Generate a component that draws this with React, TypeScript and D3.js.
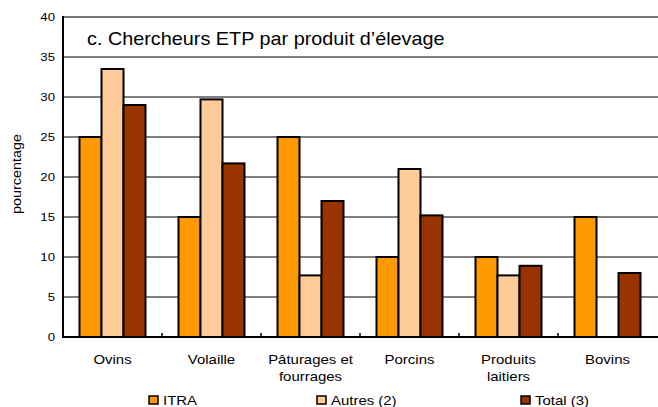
import React from "react";
import * as d3 from "d3";

const categories = [["Ovins"], ["Volaille"], ["Pâturages et", "fourrages"], ["Porcins"], ["Produits", "laitiers"], ["Bovins"]];
const seriesNames = ["ITRA", "Autres (2)", "Total (3)"];
const itra = [25, 15, 25, 10, 10, 15];
const autres = [33.5, 29.7, 7.7, 21, 7.7, 0];
const total = [29, 21.7, 17, 15.2, 8.9, 8];
const yTicks = [0, 5, 10, 15, 20, 25, 30, 35, 40];
const colors = ["#FF9900", "#FFCC99", "#993300"];
const title = "c. Chercheurs ETP par produit d’élevage";

const SX = 1.15;

function T(props: { x: number; y: number; size: number; anchor?: string; children: React.ReactNode; rotate?: boolean; sx?: number }) {
  const s = props.sx ?? SX;
  const tr = props.rotate
    ? `translate(${props.x},${props.y}) rotate(-90) scale(${s},1)`
    : `translate(${props.x},${props.y}) scale(${s},1)`;
  return (
    <text transform={tr} fontSize={props.size} textAnchor={props.anchor ?? "start"} fill="#000">
      {props.children}
    </text>
  );
}

export default function App() {
  const W = 658, H = 407;
  const left = 63, right = 657, top = 17, bottom = 337;
  const series = [itra, autres, total];
  const x = d3.scaleBand<number>().domain(d3.range(categories.length)).range([left, right]).paddingInner(0).paddingOuter(0);
  const bw = x.bandwidth() / 4.5;
  const y = d3.scaleLinear().domain([0, 40]).range([bottom, top]);
  const font = "'Liberation Sans', Arial, sans-serif";
  const legendX = [149, 317, 521];
  return (
    <svg width={W} height={H} style={{ position: "absolute", left: 0, top: 0, fontFamily: font }}>
      <rect x={0} y={0} width={W} height={H} fill="#fff" />
      {yTicks.slice(1, -1).map((t) => (
        <line key={t} x1={left} x2={W} y1={y(t)} y2={y(t)} stroke="#000" strokeWidth={1.2} />
      ))}
      <line x1={left} x2={W} y1={y(40)} y2={y(40)} stroke="#777" strokeWidth={2} />
      {yTicks.map((t) => (
        <T key={t} x={left - 8} y={y(t) + 4} size={11.5} anchor="end">{t}</T>
      ))}
      <T x={87} y={45} size={17.7} sx={1.12}>{title}</T>
      {categories.map((c, i) => {
        const x0 = (x(i) as number) + 0.75 * bw;
        return (
          <g key={i}>
            {series.map((s, j) =>
              s[i] > 0 ? (
                <rect key={j} x={x0 + j * bw} y={y(s[i])} width={bw} height={bottom - y(s[i])} fill={colors[j]} stroke="#000" strokeWidth={2} />
              ) : null
            )}
            {c.map((line, k) => (
              <T key={k} x={(x(i) as number) + x.bandwidth() / 2} y={364 + k * 17} size={13} anchor="middle">{line}</T>
            ))}
          </g>
        );
      })}
      {d3.range(1, categories.length).map((i) => (
        <line key={i} x1={x(i) as number} x2={x(i) as number} y1={bottom} y2={bottom - 4} stroke="#000" strokeWidth={1.5} />
      ))}
      <line x1={left} x2={left} y1={top - 1} y2={bottom + 1} stroke="#000" strokeWidth={2} />
      <line x1={left - 1} x2={W} y1={bottom} y2={bottom} stroke="#000" strokeWidth={2} />
      <T x={21} y={174} size={12.5} anchor="middle" rotate>pourcentage</T>
      {seriesNames.map((n, j) => (
        <g key={n}>
          <rect x={legendX[j]} y={396} width={9} height={8} fill={colors[j]} stroke="#000" strokeWidth={1.5} />
          <T x={legendX[j] + 14} y={405} size={13}>{n}</T>
        </g>
      ))}
    </svg>
  );
}
